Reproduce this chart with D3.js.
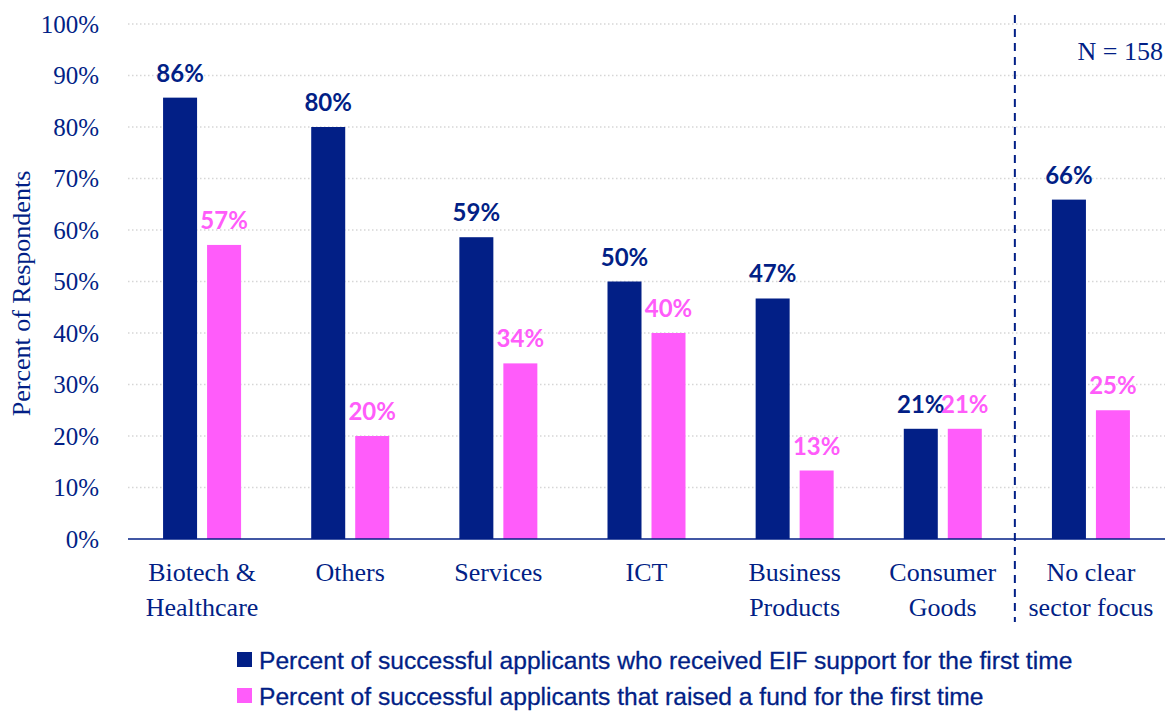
<!DOCTYPE html>
<html>
<head>
<meta charset="utf-8">
<script src="https://cdn.jsdelivr.net/npm/d3@7"></script>
<style>
  body { margin: 0; background: #fff; }
  svg { display: block; }
</style>
</head>
<body>
<svg id="chart" width="1170" height="711"></svg>
<script>
// data
let categories = [["Biotech &", "Healthcare"], ["Others"], ["Services"], ["ICT"], ["Business", "Products"], ["Consumer", "Goods"], ["No clear", "sector focus"]];
let firstEif = [85.7, 80, 58.6, 50, 46.7, 21.4, 65.9];
let firstFund = [57.1, 20, 34.1, 40, 13.3, 21.4, 25];
let yTicks = [0, 10, 20, 30, 40, 50, 60, 70, 80, 90, 100];
let seriesNames = ["Percent of successful applicants who received EIF support for the first time",
  "Percent of successful applicants that raised a fund for the first time"];

let navy = "#021f86", pink = "#ff5cfa";
let serif = "'Liberation Serif', 'DejaVu Serif', serif";
let narrow = "'Liberation Sans Narrow', 'Liberation Sans', sans-serif";

let svg = d3.select("#chart");
let plotLeft = 128, plotRight = 1165, plotTop = 24, plotBottom = 539;

let x = d3.scaleBand().domain(d3.range(categories.length)).range([plotLeft, plotRight]);
let y = d3.scaleLinear().domain([0, 100]).range([plotBottom, plotTop]);

// grid lines
svg.append("g").selectAll("line").data(yTicks.filter(d => d > 0)).join("line")
  .attr("x1", plotLeft).attr("x2", plotRight)
  .attr("y1", d => y(d)).attr("y2", d => y(d))
  .attr("stroke", "#d6d6d6").attr("stroke-width", 1.5)
  .attr("stroke-dasharray", "1.5,2.5");

// y axis labels
let yAxis = svg.append("g").attr("transform", `translate(${plotLeft},0)`)
  .call(d3.axisLeft(y).tickValues(yTicks).tickFormat(d => d + "%").tickSize(0).tickPadding(29));
yAxis.select(".domain").remove();
yAxis.selectAll("text").attr("font-family", serif).attr("font-size", 25).attr("fill", navy);

svg.append("text")
  .attr("transform", `translate(30,${(plotTop + plotBottom) / 2 + 12}) rotate(-90)`)
  .attr("text-anchor", "middle")
  .attr("font-family", serif).attr("font-size", 26).attr("fill", navy)
  .text("Percent of Respondents");

let barW = 34, gap = 5;
let bars = [
  { vals: firstEif, color: navy, off: -gap - barW, labelColor: navy },
  { vals: firstFund, color: pink, off: gap, labelColor: pink }
];

bars.forEach(s => {
  let g = svg.append("g");
  g.selectAll("rect").data(s.vals).join("rect")
    .attr("x", (d, i) => x(i) + x.bandwidth() / 2 + s.off)
    .attr("width", barW)
    .attr("y", d => y(d))
    .attr("height", d => y(0) - y(d))
    .attr("fill", s.color);
  g.selectAll("text").data(s.vals).join("text")
    .attr("x", (d, i) => x(i) + x.bandwidth() / 2 + s.off + barW / 2)
    .attr("y", d => y(d) - 16)
    .attr("text-anchor", "middle")
    .attr("font-family", "Lato, 'Open Sans', sans-serif")
    .attr("font-weight", "bold").attr("font-size", 24)
    .attr("fill", s.labelColor)
    .text(d => Math.round(d) + "%");
});

// baseline
svg.append("line").attr("x1", plotLeft).attr("x2", plotRight)
  .attr("y1", y(0)).attr("y2", y(0))
  .attr("stroke", navy).attr("stroke-width", 1.5);

// category labels
let xl = svg.append("g");
categories.forEach((lines, i) => {
  let t = xl.append("text")
    .attr("text-anchor", "middle")
    .attr("font-family", serif).attr("font-size", 26).attr("fill", navy);
  lines.forEach((ln, j) => {
    t.append("tspan").attr("x", x(i) + x.bandwidth() / 2).attr("y", 581 + j * 35).text(ln);
  });
});

// separator before "No clear sector focus"
let sepX = x(categories.length - 1) - 2;
svg.append("line").attr("x1", sepX).attr("x2", sepX)
  .attr("y1", 15).attr("y2", 622)
  .attr("stroke", navy).attr("stroke-width", 2)
  .attr("stroke-dasharray", "8,6");

svg.append("text").attr("x", 1163).attr("y", 60)
  .attr("text-anchor", "end")
  .attr("font-family", serif).attr("font-size", 26).attr("fill", navy)
  .text("N = 158");

// legend
let leg = svg.append("g");
seriesNames.forEach((name, i) => {
  leg.append("rect").attr("x", 237).attr("y", 652 + i * 36).attr("width", 15).attr("height", 15)
    .attr("fill", i === 0 ? navy : pink);
  leg.append("text").attr("x", 259).attr("y", 669 + i * 36)
    .attr("font-family", narrow).attr("font-size", 24.6).attr("fill", navy)
    .attr("stroke", navy).attr("stroke-width", 0.3)
    .text(name);
});
</script>
</body>
</html>
